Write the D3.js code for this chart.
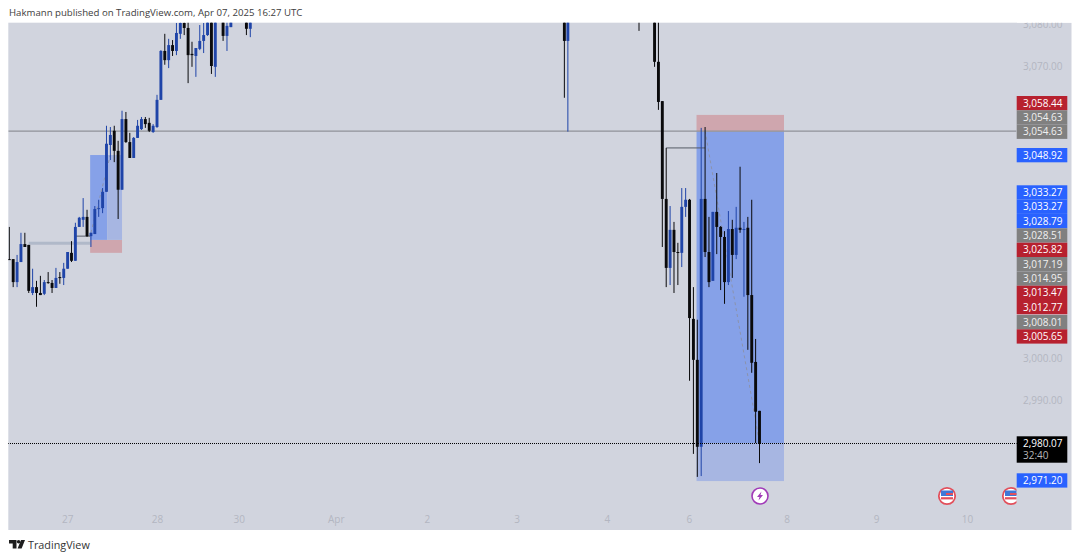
<!DOCTYPE html>
<html><head><meta charset="utf-8">
<script src="https://cdn.jsdelivr.net/npm/d3@7/dist/d3.min.js"></script>
<style>html,body{margin:0;padding:0;background:#fff}svg{display:block}text{font-family:"Open Sans",sans-serif}</style>
</head><body><svg id="c" width="1080" height="560"></svg>
<script>
const titleText = "Hakmann published on TradingView.com, Apr 07, 2025 16:27 UTC";
const barIndex = [0,1,2,3,4,5,6,7,8,9,10,11,12,13,14,15,16,17,18,19,20,21,22,23,24,25,26,27,28,29,30,31,32,33,34,35,36,37,38,39,40,41,42,43,44,45,46,47,48,49,50,51,52,53,55,56,57,61,62,142.8,143.7,162,166,167,168,169,170,171,172,173,174,175,176,177,178,179,180,181,182,183,184,185,186,187,188,189,190,191,192,193];
const barOpen = [3023.8,3023.8,3018.3,3023.1,3027.4,3027.2,3015.7,3017.1,3015.7,3015.5,3018.3,3018.1,3016.9,3019.5,3019.3,3021.5,3025.3,3023.4,3031.5,3033.2,3033.9,3029.3,3029.8,3035.8,3036.0,3039.9,3051.1,3054.5,3049.7,3040.4,3057.3,3051.8,3048.0,3052.8,3054.9,3057.3,3056.4,3054.2,3055.4,3061.9,3073.6,3071.4,3075.0,3073.6,3077.7,3080.3,3079.1,3072.9,3072.4,3074.1,3076.0,3077.4,3081,3069.8,3081,3077.2,3079.3,3082,3078.9,3082,3076.0,3085,3082,3071.0,3061.6,3038.2,3021.7,3030.8,3025.5,3025.3,3036.3,3038.0,3009.5,2999.7,2978.9,3038.2,3025.5,3018.6,3035.1,3031.5,3029.1,3018.3,3031.0,3024.8,3031.3,3030.8,3031.3,3015.2,2999.2,2987.5];
const barHigh = [3031.5,3023.8,3024.8,3030.1,3030.1,3027.2,3021.5,3018.6,3019.8,3018.8,3020.7,3018.8,3021.7,3020.7,3022.9,3025.5,3028.1,3032.5,3033.9,3038.4,3035.6,3030.1,3036.5,3038.0,3040.8,3055.7,3055.4,3055.7,3052.1,3059.3,3059.0,3054.0,3053.0,3057.1,3057.8,3057.8,3057.6,3056.1,3063.1,3073.8,3077.7,3076.5,3076.2,3080.3,3080.6,3080.6,3080.6,3075.8,3074.3,3079.8,3080.3,3083,3083,3083,3083,3080.5,3082,3083,3083,3083,3083,3085,3083,3083,3061.6,3050.4,3036.5,3032.7,3027.7,3040.8,3040.8,3038.2,3017.1,3009.3,3055.2,3055.4,3033.9,3035.1,3044.4,3031.7,3030.5,3035.3,3033.2,3036.3,3045.9,3032.7,3033.9,3038.0,3004.7,2987.5];
const barLow = [3023.6,3017.1,3017.1,3023.1,3026.7,3015.7,3015.2,3012.4,3015.2,3015.2,3017.9,3015.7,3016.9,3017.9,3017.6,3021.5,3023.1,3023.4,3031.5,3031.5,3029.1,3026.7,3029.8,3033.9,3034.8,3039.9,3047.5,3047.0,3033.4,3040.4,3051.6,3048.0,3048.0,3052.8,3054.7,3055.2,3054.2,3054.0,3055.2,3061.9,3070.3,3069.5,3072.4,3072.6,3076.5,3077.4,3065.9,3069.8,3067.4,3073.8,3073.1,3077.2,3068.1,3067.4,3076.0,3073.6,3079.3,3077.4,3076.9,3062.4,3054.3,3078.4,3069.8,3059.5,3026.7,3017.1,3017.6,3015.7,3017.6,3021.9,3033.9,2994.7,2977.2,2971.7,2971.9,3024.3,3017.1,3018.6,3025.0,3016.4,3013.1,3017.6,3019.3,3023.8,3030.1,3014.8,3002.1,2996.6,2979.8,2975.0];
const barClose = [3023.6,3018.3,3023.1,3027.4,3026.7,3016.2,3017.1,3015.7,3015.2,3018.3,3018.1,3016.9,3019.3,3019.3,3021.5,3025.5,3023.4,3031.5,3033.7,3033.9,3029.3,3030.1,3035.8,3036.0,3039.9,3051.4,3053.5,3049.7,3040.4,3057.3,3051.8,3048.0,3052.8,3055.7,3057.3,3056.1,3054.5,3055.7,3061.9,3073.6,3071.4,3075.0,3073.6,3077.9,3080.3,3079.1,3072.6,3072.6,3074.3,3076.0,3077.4,3081,3070.0,3081,3077.2,3079.6,3081,3078.9,3081,3076.0,3082,3082,3071.0,3061.4,3038.2,3021.7,3030.8,3025.5,3025.3,3036.3,3038.0,3009.7,2999.7,2978.9,3038.2,3025.5,3018.3,3035.1,3031.5,3029.1,3018.3,3031.0,3024.8,3031.3,3030.8,3031.0,3015.2,2999.0,2987.3,2979.8];
const priceTicks = [3080,3070,3000,2990];
const timeTickIndex = [14.9,38,59,84,107.4,130.5,153.7,174.8,200,223,246.4];
const timeTickLabels = ["27","28","30","Apr","2","3","4","6","8","9","10"];
const zoneX0 = [20.8,20.8,25.2,176.8,176.8,176.8];
const zoneX1 = [29,25.2,29,199.3,199.3,199.3];
const zoneTop = [3028.4,3048.7,3048.7,3058.3,3054.3,2979.8];
const zoneBottom = [3025.3,3028.4,3028.4,3054.3,2979.8,2970.7];
const zoneFill = ["#cfa6ae","#86a1e8","#a7b6e2","#cfa6ae","#86a1e8","#a7b6e2"];
const tagLabels = ["3,058.44","3,054.63","3,054.63","3,048.92","3,033.27","3,033.27","3,028.79","3,028.51","3,025.82","3,017.19","3,014.95","3,013.47","3,012.77","3,008.01","3,005.65","2,971.20"];
const tagFill = ["#b7212f","#808080","#808080","#2962ff","#2962ff","#2962ff","#2962ff","#808080","#b7212f","#808080","#808080","#b7212f","#b7212f","#808080","#b7212f","#2962ff"];
const W = 1080, H = 560;
const pane = {l:8.3, r:1071.5, t:22.7, b:530, chartR:1016.5};
const x = d3.scaleLinear().domain([0,193]).range([9.3,759.5]);
const y = d3.scaleLinear().domain([3070,3000]).range([66,358.6]);
const svg = d3.select("#c");
const defs = svg.append("defs");
defs.append("clipPath").attr("id","chartClip").append("rect").attr("x",pane.l).attr("y",pane.t).attr("width",pane.chartR-pane.l).attr("height",pane.b-pane.t);
svg.append("rect").attr("x",pane.l).attr("y",pane.t).attr("width",pane.r-pane.l).attr("height",pane.b-pane.t).attr("fill","#d1d4de");
svg.append("text").attr("x",9).attr("y",16).attr("font-size",9.65).attr("fill","#3c3c3c").text(titleText);
const g = svg.append("g").attr("clip-path","url(#chartClip)");
// zones
g.selectAll("rect.zone").data(zoneX0).join("rect").attr("class","zone")
 .attr("x",d=>x(d)).attr("width",(d,i)=>x(zoneX1[i])-x(d))
 .attr("y",(d,i)=>y(zoneTop[i])).attr("height",(d,i)=>y(zoneBottom[i])-y(zoneTop[i]))
 .attr("fill",(d,i)=>zoneFill[i]);
// level lines
g.append("line").attr("x1",pane.l).attr("x2",pane.chartR).attr("y1",y(3054.4)).attr("y2",y(3054.4)).attr("stroke","#8f9298").attr("stroke-width",1.2);
g.append("line").attr("x1",x(5)).attr("x2",x(21)).attr("y1",y(3027.6)).attr("y2",y(3027.6)).attr("stroke","#b0b9c9").attr("stroke-width",3);
const connectors = [[17,20.8,3029.3],[169,179,3050.4]];
connectors.forEach(c=>g.append("line").attr("x1",x(c[0])).attr("x2",x(c[1])).attr("y1",y(c[2])).attr("y2",y(c[2])).attr("stroke","#555a66").attr("stroke-width",1));
const diagonals = [[21,3030.1,26,3048.7],[179,3054.5,193,2979.8]];
diagonals.forEach(d=>g.append("line").attr("x1",x(d[0])).attr("x2",x(d[2])).attr("y1",y(d[1])).attr("y2",y(d[3])).attr("stroke","#8b93ad").attr("stroke-width",1).attr("stroke-dasharray","3 3"));
// candles
const col = i => barClose[i] > barOpen[i] ? "#1f44a8" : "#0a0a0c";
g.selectAll("line.wick").data(barIndex).join("line").attr("class","wick")
 .attr("x1",d=>x(d)).attr("x2",d=>x(d))
 .attr("y1",(d,i)=>y(barHigh[i])).attr("y2",(d,i)=>y(barLow[i]))
 .attr("stroke",(d,i)=>col(i)).attr("stroke-width",1);
g.selectAll("rect.body").data(barIndex).join("rect").attr("class","body")
 .attr("x",d=>x(d)-1.45).attr("width",2.9)
 .attr("y",(d,i)=>y(Math.max(barOpen[i],barClose[i])))
 .attr("height",(d,i)=>Math.max(1,Math.abs(y(barOpen[i])-y(barClose[i]))))
 .attr("fill",(d,i)=>col(i));
// current price line
g.append("line").attr("x1",pane.l).attr("x2",pane.chartR).attr("y1",y(2979.8)).attr("y2",y(2979.8)).attr("stroke","#000").attr("stroke-width",1).attr("stroke-dasharray","1 1").attr("shape-rendering","crispEdges");
// time axis
const ax = svg.append("g").attr("transform",`translate(0,${pane.b-15})`)
 .call(d3.axisBottom(x).tickValues(timeTickIndex).tickFormat((d,i)=>timeTickLabels[i]).tickSize(0).tickPadding(0));
ax.select(".domain").remove();
ax.selectAll("text").attr("fill","#b3b6c1").attr("font-size",10).attr("font-family",'"Open Sans",sans-serif').attr("dy","0.32em").attr("y",4.5);
// price axis
const ayIn = svg.append("g").attr("transform",`translate(1023,0)`)
 .call(d3.axisRight(y).tickValues(priceTicks).tickFormat(d3.format(",.2f")).tickSize(0).tickPadding(0));
ayIn.select(".domain").remove();
ayIn.selectAll("text").attr("fill","#b3b6c1").attr("font-size",10).attr("font-family",'"Open Sans",sans-serif').attr("dy","0.32em");
svg.append("rect").attr("x",1017).attr("y",0).attr("width",55).attr("height",pane.t).attr("fill","#fff");
// price tags (stacked like the source layout)
const tagTop = [96,110.3,124.6,148,185.3,199.6,214,228.3,242.7,257,271.4,285.7,300,315,329.3,473.3];
const tagH = 14.3, tagX = 1016.7, tagW = 50.6;
svg.selectAll("rect.tag").data(tagLabels).join("rect").attr("class","tag")
 .attr("x",tagX).attr("width",tagW).attr("y",(d,i)=>tagTop[i]).attr("height",tagH).attr("fill",(d,i)=>tagFill[i]);
svg.selectAll("text.tag").data(tagLabels).join("text").attr("class","tag")
 .attr("x",1023).attr("y",(d,i)=>tagTop[i]+tagH/2).attr("dy","0.35em").attr("font-size",10)
 .attr("fill",(d,i)=>tagFill[i]==="#808080"?"#f0f0f0":"#fff").text(d=>d);
svg.append("rect").attr("x",tagX).attr("y",436.3).attr("width",tagW).attr("height",26.4).attr("fill","#000");
svg.append("text").attr("x",1023).attr("y",443.4).attr("dy","0.35em").attr("font-size",10).attr("fill","#fff").text("2,980.07");
svg.append("text").attr("x",1023).attr("y",455.6).attr("dy","0.35em").attr("font-size",10).attr("fill","#b8b8b8").text("32:40");
// events
const ev = svg.append("g").attr("clip-path","url(#chartClip)");
const bolt = ev.append("g").attr("transform","translate(760,496)");
bolt.append("circle").attr("r",8).attr("fill","#fff").attr("stroke","#a13ab8").attr("stroke-width",1.6);
bolt.append("path").attr("d","M1.5,-4.5 L-3,1 L-0.5,1 L-1.5,4.5 L3,-1 L0.5,-1 Z").attr("fill","#a13ab8");
[947,1011].forEach(cx=>{
 const f = ev.append("g").attr("transform",`translate(${cx},496)`);
 f.append("circle").attr("r",8.2).attr("fill","#fff").attr("stroke","#e2505c").attr("stroke-width",1.8);
 f.append("rect").attr("x",-6).attr("y",-5.5).attr("width",12).attr("height",5.5).attr("fill","#3f78d8");
 f.append("rect").attr("x",-1).attr("y",-3).attr("width",7).attr("height",2).attr("fill","#e2505c");
 f.append("rect").attr("x",-6).attr("y",1.2).attr("width",12).attr("height",2.2).attr("fill","#e2505c");
});
// logo
const lg = svg.append("g").attr("transform","translate(9,540)").attr("fill","#1e1e1e");
lg.append("path").attr("d","M0,0 H7.5 V8.5 H3.7 V3.4 H0 Z");
lg.append("circle").attr("cx",9.6).attr("cy",1.8).attr("r",1.8);
lg.append("path").attr("d","M12,0 H16 L12.6,8.5 H8.6 Z");
svg.append("text").attr("x",28).attr("y",549).attr("font-size",10.8).attr("fill","#333").text("TradingView");
</script></body></html>
